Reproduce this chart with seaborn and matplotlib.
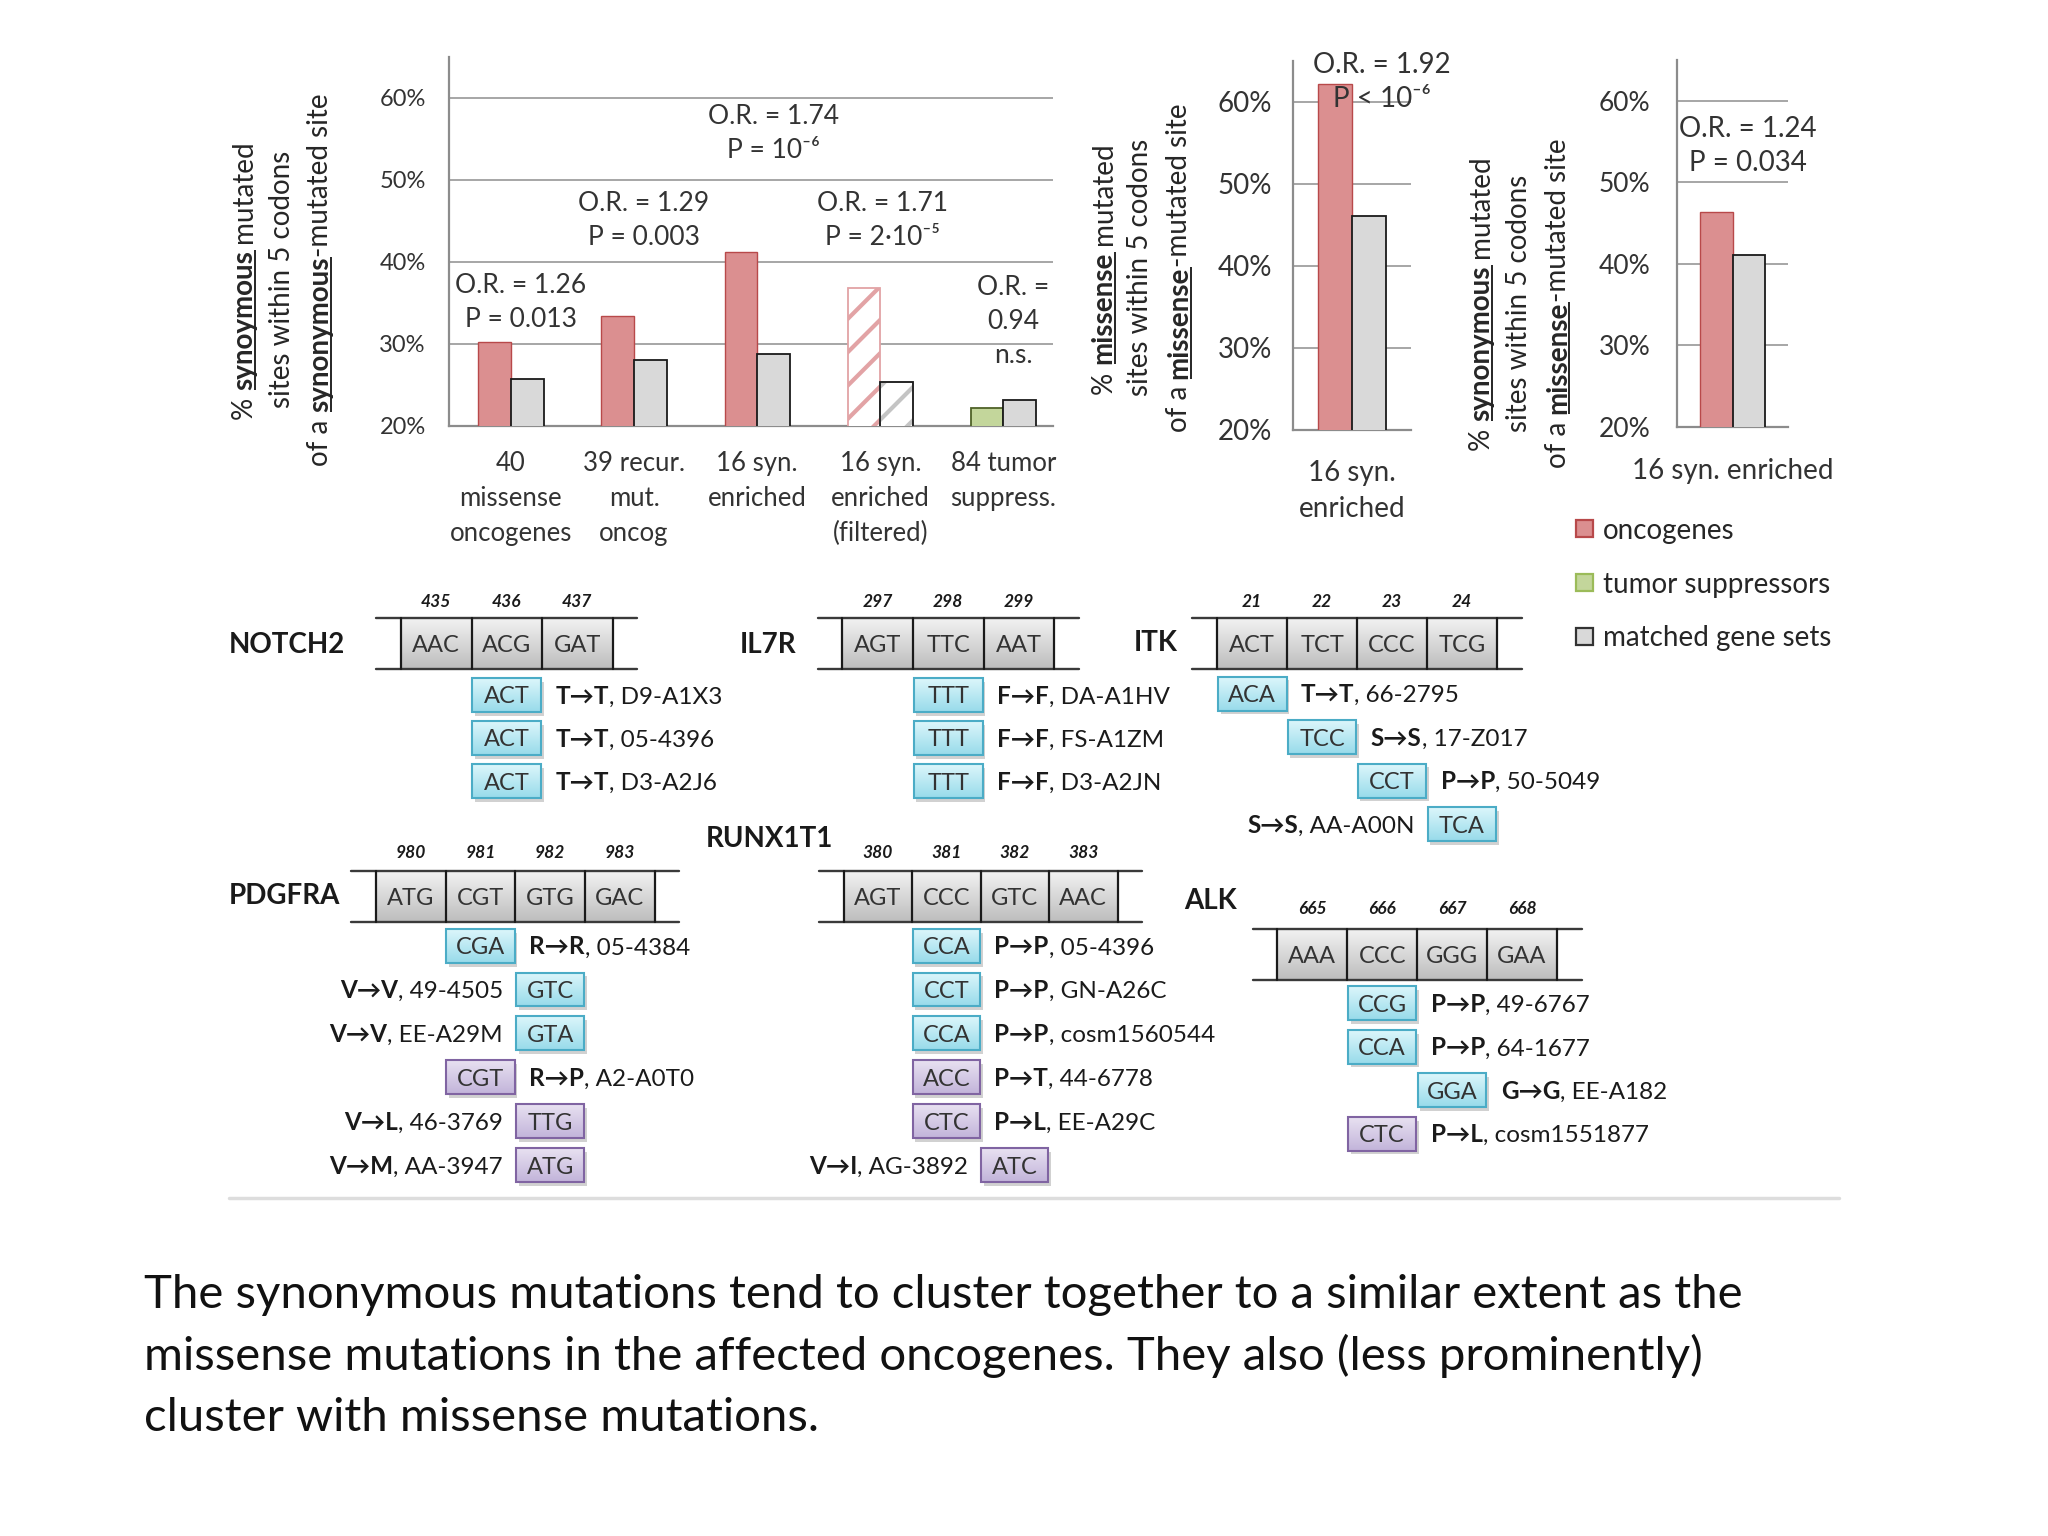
import numpy as np
import pandas as pd
import matplotlib
matplotlib.use("Agg")
import matplotlib.pyplot as plt
from matplotlib.patches import Rectangle
from matplotlib.colors import LinearSegmentedColormap
import seaborn as sns

# ---- bar chart values (percent) ----
syn_groups = ['40\nmissense\noncogenes', '39 recur.\nmut.\noncog', '16 syn.\nenriched',
              '16 syn.\nenriched\n(filtered)', '84 tumor\nsuppress.']
syn_onc = [30.2, 33.4, 41.2, 36.8, 22.2]
syn_matched = [25.7, 28.0, 28.8, 25.4, 23.2]
syn_kind = ['onc', 'onc', 'onc', 'filtered', 'tsg']
syn_stats = ['O.R. = 1.26\nP = 0.013', 'O.R. = 1.29\nP = 0.003', 'O.R. = 1.74\nP = 10⁻⁶',
             'O.R. = 1.71\nP = 2·10⁻⁵', 'O.R. =\n0.94\nn.s.']

mis_groups = ['16 syn.\nenriched']
mis_onc = [62.2]
mis_matched = [46.1]
mis_stats = ['O.R. = 1.92\nP < 10⁻⁶']

cross_groups = ['16 syn. enriched']
cross_onc = [46.3]
cross_matched = [41.1]
cross_stats = ['O.R. = 1.24\nP = 0.034']

y_ticks = [20, 30, 40, 50, 60]
legend_labels = ['oncogenes', 'tumor suppressors', 'matched gene sets']

# ---- codon diagrams: (new codon, column, aa change, sample, kind, label side) ----
notch2_codons = ['AAC', 'ACG', 'GAT']
notch2_pos = [435, 436, 437]
notch2_muts = [('ACT', 1, 'T→T', 'D9-A1X3', 'syn', 'R'),
               ('ACT', 1, 'T→T', '05-4396', 'syn', 'R'),
               ('ACT', 1, 'T→T', 'D3-A2J6', 'syn', 'R')]
il7r_codons = ['AGT', 'TTC', 'AAT']
il7r_pos = [297, 298, 299]
il7r_muts = [('TTT', 1, 'F→F', 'DA-A1HV', 'syn', 'R'),
             ('TTT', 1, 'F→F', 'FS-A1ZM', 'syn', 'R'),
             ('TTT', 1, 'F→F', 'D3-A2JN', 'syn', 'R')]
itk_codons = ['ACT', 'TCT', 'CCC', 'TCG']
itk_pos = [21, 22, 23, 24]
itk_muts = [('ACA', 0, 'T→T', '66-2795', 'syn', 'R'),
            ('TCC', 1, 'S→S', '17-Z017', 'syn', 'R'),
            ('CCT', 2, 'P→P', '50-5049', 'syn', 'R'),
            ('TCA', 3, 'S→S', 'AA-A00N', 'syn', 'L')]
pdgfra_codons = ['ATG', 'CGT', 'GTG', 'GAC']
pdgfra_pos = [980, 981, 982, 983]
pdgfra_muts = [('CGA', 1, 'R→R', '05-4384', 'syn', 'R'),
               ('GTC', 2, 'V→V', '49-4505', 'syn', 'L'),
               ('GTA', 2, 'V→V', 'EE-A29M', 'syn', 'L'),
               ('CGT', 1, 'R→P', 'A2-A0T0', 'mis', 'R'),
               ('TTG', 2, 'V→L', '46-3769', 'mis', 'L'),
               ('ATG', 2, 'V→M', 'AA-3947', 'mis', 'L')]
runx1t1_codons = ['AGT', 'CCC', 'GTC', 'AAC']
runx1t1_pos = [380, 381, 382, 383]
runx1t1_muts = [('CCA', 1, 'P→P', '05-4396', 'syn', 'R'),
                ('CCT', 1, 'P→P', 'GN-A26C', 'syn', 'R'),
                ('CCA', 1, 'P→P', 'cosm1560544', 'syn', 'R'),
                ('ACC', 1, 'P→T', '44-6778', 'mis', 'R'),
                ('CTC', 1, 'P→L', 'EE-A29C', 'mis', 'R'),
                ('ATC', 2, 'V→I', 'AG-3892', 'mis', 'L')]
alk_codons = ['AAA', 'CCC', 'GGG', 'GAA']
alk_pos = [665, 666, 667, 668]
alk_muts = [('CCG', 1, 'P→P', '49-6767', 'syn', 'R'),
            ('CCA', 1, 'P→P', '64-1677', 'syn', 'R'),
            ('GGA', 2, 'G→G', 'EE-A182', 'syn', 'R'),
            ('CTC', 1, 'P→L', 'cosm1551877', 'mis', 'R')]

caption = ['The synonymous mutations tend to cluster together to a similar extent as the',
           'missense mutations in the affected oncogenes. They also (less prominently)',
           'cluster with missense mutations.']

# ---- style ----
sns.set_style('white')
plt.rcParams['font.family'] = ['Lato', 'DejaVu Sans']
plt.rcParams['hatch.linewidth'] = 3.0

PINK, PINK_EDGE = '#DB8F90', '#B8494A'
GRAY, GREEN = '#D9D9D9', '#C3D69B'
AXCOL, GRIDCOL, TXT = '#8C8C8C', '#A6A6A6', '#262626'

W, H = 1568, 1176          # layout units of the slide
PX = 2048 / W              # pixels per layout unit
PT = 100 / 72 / PX         # layout units per point

fig = plt.figure(figsize=(20.48, 15.36), dpi=100)
bg = fig.add_axes([0, 0, 1, 1])
bg.set_xlim(0, W)
bg.set_ylim(H, 0)
bg.set_autoscale_on(False)
bg.axis('off')
renderer = fig.canvas.get_renderer()


def frac(x0, y0, x1, y1):
    return [x0 / W, 1 - y1 / H, (x1 - x0) / W, (y1 - y0) / H]


def text_width(s, size, weight='normal'):
    t = bg.text(0, 0, 'x' + s + 'x', fontsize=size, fontweight=weight)
    w = t.get_window_extent(renderer).width
    t.remove()
    t = bg.text(0, 0, 'xx', fontsize=size, fontweight=weight)
    w0 = t.get_window_extent(renderer).width
    t.remove()
    return (w - w0) / PX


def rich_vertical(x, yc, parts, size):
    # parts: (text, bold, underline); text reads bottom to top
    widths = [text_width(s, size, 'bold' if b else 'normal') for s, b, u in parts]
    y = yc + sum(widths) / 2
    for (s, b, u), w in zip(parts, widths):
        if s.strip():
            bg.text(x, y, s, rotation=90, rotation_mode='anchor', ha='left', va='baseline',
                    fontsize=size, fontweight='bold' if b else 'normal', color=TXT)
        if u:
            bg.plot([x + 2.6, x + 2.6], [y, y - w], color=TXT, lw=1.4, solid_capstyle='butt')
        y -= w


def rich_row(x, y, parts, size, ha='left'):
    widths = [text_width(s, size, wt) for s, wt in parts]
    if ha == 'right':
        x -= sum(widths)
    for (s, wt), w in zip(parts, widths):
        bg.text(x, y, s, ha='left', va='baseline', fontsize=size, fontweight=wt, color='#1a1a1a')
        x += w


def draw_panel(ax, groups, onc, matched, kinds, width, xmax, tsize, ypad, xpad, xsize, lsp):
    n = len(groups)
    df = pd.DataFrame({'group': list(groups) * 2,
                       'set': ['onc'] * n + ['matched'] * n,
                       'pct': list(onc) + list(matched)})
    sns.barplot(data=df, x='group', y='pct', hue='set', order=groups,
                hue_order=['onc', 'matched'], palette=[PINK, GRAY], saturation=1,
                width=width, errorbar=None, legend=False, ax=ax,
                edgecolor='#1a1a1a', linewidth=1.3, zorder=3)
    bars = sorted(ax.patches, key=lambda p: p.get_x())
    for i, kind in enumerate(kinds):
        b_onc, b_mat = bars[2 * i], bars[2 * i + 1]
        if kind == 'onc':
            b_onc.set_edgecolor(PINK_EDGE)
            b_onc.set_linewidth(1.0)
        elif kind == 'tsg':
            b_onc.set_facecolor(GREEN)
            b_onc.set_edgecolor('#4F6228')
        elif kind == 'filtered':
            b_onc.set_facecolor('white')
            b_onc.set_hatch('/')
            b_onc.set_edgecolor('#E2A3A5')
            b_mat.set_facecolor('white')
            b_mat.set_hatch('/')
            b_mat.set_edgecolor('#C4C4C4')
            ax.add_patch(Rectangle((b_mat.get_x(), b_mat.get_y()), b_mat.get_width(),
                                   b_mat.get_height(), fill=False, ec='#1a1a1a', lw=1.3, zorder=4))
    ax.set_xlim(-0.5, xmax)
    ax.set_ylim(20, 65)
    ax.set_yticks(y_ticks)
    ax.set_yticklabels([f'{v}%' for v in y_ticks])
    ax.set_xticks(range(n))
    ax.set_xticklabels(groups)
    ax.set_xticks([i - 0.5 for i in range(n + 1) if i - 0.5 <= xmax], minor=True)
    ax.set_xlabel('')
    ax.set_ylabel('')
    ax.grid(axis='y', color=GRIDCOL, lw=1.4)
    ax.grid(axis='x', visible=False)
    ax.set_axisbelow(True)
    for side in ('top', 'right'):
        ax.spines[side].set_visible(False)
    for side in ('left', 'bottom'):
        ax.spines[side].set_color(AXCOL)
        ax.spines[side].set_linewidth(1.6)
    ax.tick_params(axis='y', direction='out', length=6, width=1.4, color=AXCOL,
                   labelsize=tsize, pad=ypad, labelcolor='#333333')
    ax.tick_params(axis='x', which='major', length=0, pad=xpad, labelsize=xsize,
                   labelcolor='#333333')
    ax.tick_params(axis='x', which='minor', direction='out', length=7, width=1.4, color=AXCOL)
    for lab in ax.get_xticklabels():
        lab.set_linespacing(lsp)
    ax.patch.set_alpha(0)


ax1 = fig.add_axes(frac(344, 43.6, 806, 326))
ax2 = fig.add_axes(frac(990, 46.6, 1080, 329))
ax3 = fig.add_axes(frac(1284, 45.75, 1369, 327))

draw_panel(ax1, syn_groups, syn_onc, syn_matched, syn_kind, 0.53, 4.40, 17, 11, 18, 18.5, 1.5)
draw_panel(ax2, mis_groups, mis_onc, mis_matched, ['onc'], 0.578, 0.5, 20, 9, 22, 20, 1.45)
draw_panel(ax3, cross_groups, cross_onc, cross_matched, ['onc'], 0.59, 0.5, 19, 13, 22, 20, 1.4)

# odds ratio annotations
for s, (x, y) in zip(syn_stats, [(0.08, 35.0), (1.08, 45.0), (2.13, 55.7), (3.02, 45.0), (4.08, 32.7)]):
    ax1.text(x, y, s, ha='center', va='center', fontsize=19, linespacing=1.45, color='#333333', zorder=5)
ax2.text(0.256, 62.4, mis_stats[0], ha='center', va='center', fontsize=20, linespacing=1.4,
         color='#333333', zorder=5)
ax3.text(0.135, 54.4, cross_stats[0], ha='center', va='center', fontsize=20, linespacing=1.4,
         color='#333333', zorder=5)

# y axis titles with bold underlined words
rich_vertical(193, 214, [('%', 0, 0), (' ', 0, 0), ('synoymous', 1, 1), (' ', 0, 0), ('mutated', 0, 0)], 20)
rich_vertical(222, 214, [('sites within 5 codons', 0, 0)], 20)
rich_vertical(251, 214, [('of a', 0, 0), (' ', 0, 0), ('synonymous', 1, 1), ('-mutated site', 0, 0)], 20)
rich_vertical(851, 205, [('%', 0, 0), (' ', 0, 0), ('missense', 1, 1), (' ', 0, 0), ('mutated', 0, 0)], 20)
rich_vertical(879, 205, [('sites within 5 codons', 0, 0)], 20)
rich_vertical(909, 205, [('of a', 0, 0), (' ', 0, 0), ('missense', 1, 1), ('-mutated site', 0, 0)], 20)
rich_vertical(1140, 232, [('%', 0, 0), (' ', 0, 0), ('synonymous', 1, 1), (' ', 0, 0), ('mutated', 0, 0)], 20)
rich_vertical(1169, 232, [('sites within 5 codons', 0, 0)], 20)
rich_vertical(1199, 232, [('of a', 0, 0), (' ', 0, 0), ('missense', 1, 1), ('-mutated site', 0, 0)], 20)

# legend
for (fc, ec), lab, yc in zip([(PINK, PINK_EDGE), (GREEN, '#9BBB59'), (GRAY, '#333333')],
                             legend_labels, [405, 446, 487]):
    bg.add_patch(Rectangle((1207, yc - 6.5), 13, 13, fc=fc, ec=ec, lw=1.6))
    bg.text(1227, yc + 0.36 * 20 * PT, lab, fontsize=20, va='baseline', ha='left', color='#262626')

# ---- codon diagrams ----
track_cmap = LinearSegmentedColormap.from_list('track', ['#f2f2f2', '#bdbdbd'])
syn_cmap = LinearSegmentedColormap.from_list('syn', ['#dcf6fb', '#98dbea'])
mis_cmap = LinearSegmentedColormap.from_list('mis', ['#e8e1f1', '#c2b4da'])
grad = np.linspace(0, 1, 64)[:, None]

gene_layout = [
    ('NOTCH2', notch2_codons, notch2_pos, notch2_muts,
     dict(name=(175, 494), x0=307, cw=54, top=473, bot=512, num=461, row0=532, dy=33)),
    ('IL7R', il7r_codons, il7r_pos, il7r_muts,
     dict(name=(566, 494), x0=645, cw=54, top=473, bot=512, num=461, row0=532, dy=33)),
    ('ITK', itk_codons, itk_pos, itk_muts,
     dict(name=(868, 492), x0=932, cw=53.5, top=473, bot=512, num=461, row0=531, dy=33.3)),
    ('PDGFRA', pdgfra_codons, pdgfra_pos, pdgfra_muts,
     dict(name=(175, 686), x0=288, cw=53.3, top=667, bot=706, num=653, row0=724, dy=33.6)),
    ('RUNX1T1', runx1t1_codons, runx1t1_pos, runx1t1_muts,
     dict(name=(540, 642), x0=646, cw=52.4, top=667, bot=706, num=653, row0=724, dy=33.6)),
    ('ALK', alk_codons, alk_pos, alk_muts,
     dict(name=(907, 690), x0=978, cw=53.5, top=711, bot=750, num=696, row0=768, dy=33.3)),
]

for name, codons, positions, muts, lay in gene_layout:
    x0, cw, top, bot = lay['x0'], lay['cw'], lay['top'], lay['bot']
    x1 = x0 + cw * len(codons)
    bg.imshow(grad, extent=[x0, x1, bot, top], cmap=track_cmap, aspect='auto', zorder=1)
    for yy in (top, bot):
        bg.plot([x0 - 19, x1 + 19], [yy, yy], color='#3a3a3a', lw=1.7, zorder=3)
    for i in range(len(codons) + 1):
        bg.plot([x0 + i * cw] * 2, [top, bot], color='#1a1a1a', lw=1.6, zorder=3)
    for i, (c, p) in enumerate(zip(codons, positions)):
        xc = x0 + (i + 0.5) * cw
        bg.text(xc, (top + bot) / 2 + 0.36 * 17 * PT, c, ha='center', va='baseline',
                fontsize=17, color='#333333', zorder=4)
        bg.text(xc, lay['num'], str(p), ha='center', va='center', fontsize=12.5,
                fontweight='bold', fontstyle='italic', color='#1a1a1a')
    bg.text(lay['name'][0], lay['name'][1], name, ha='left', va='center', fontsize=20,
            fontweight='bold', color='#1a1a1a')
    for r, (codon, col, aa, sample, kind, side) in enumerate(muts):
        yc = lay['row0'] + r * lay['dy']
        bx0, bx1 = x0 + col * cw + 0.5, x0 + (col + 1) * cw - 0.5
        by0, by1 = yc - 13, yc + 13
        ec = '#4BACC6' if kind == 'syn' else '#8064A2'
        bg.add_patch(Rectangle((bx0 + 2, by0 + 3), bx1 - bx0, by1 - by0, fc='#9a9a9a',
                               ec='none', alpha=0.45, zorder=1))
        bg.imshow(grad, extent=[bx0, bx1, by1, by0], cmap=syn_cmap if kind == 'syn' else mis_cmap,
                  aspect='auto', zorder=2)
        bg.add_patch(Rectangle((bx0, by0), bx1 - bx0, by1 - by0, fill=False, ec=ec, lw=1.5, zorder=3))
        bg.text((bx0 + bx1) / 2, yc + 0.36 * 17 * PT, codon, ha='center', va='baseline',
                fontsize=17, color='#333333', zorder=4)
        parts = [(aa, 'bold'), (', ' + sample, 'normal')]
        if side == 'R':
            rich_row(bx1 + 11, yc + 0.36 * 17.5 * PT, parts, 17.5)
        else:
            rich_row(bx0 - 10, yc + 0.36 * 17.5 * PT, parts, 17.5, ha='right')

# separator and caption
bg.plot([175, 1408], [917, 917], color='#DDDDDD', lw=2.5)
for k, line in enumerate(caption):
    bg.text(110, 1001.6 + 47 * k, line, ha='left', va='baseline', fontsize=34, color='#111111')

fig.savefig('out.png', dpi=100)
